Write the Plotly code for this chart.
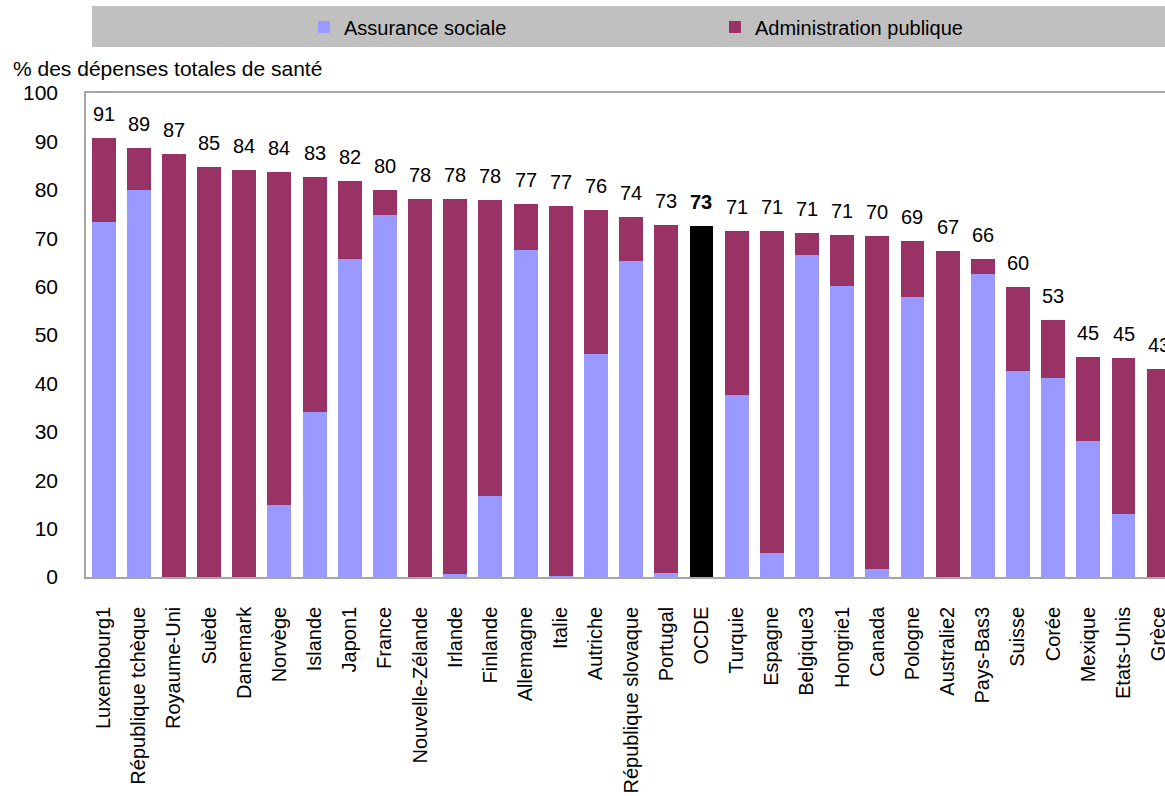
import plotly.graph_objects as go

# Dépenses publiques de santé, en % des dépenses totales de santé
pays = [
    "Luxembourg1", "République tchèque", "Royaume-Uni", "Suède", "Danemark",
    "Norvège", "Islande", "Japon1", "France", "Nouvelle-Zélande", "Irlande",
    "Finlande", "Allemagne", "Italie", "Autriche", "République slovaque",
    "Portugal", "OCDE", "Turquie", "Espagne", "Belgique3", "Hongrie1", "Canada",
    "Pologne", "Australie2", "Pays-Bas3", "Suisse", "Corée", "Mexique",
    "Etats-Unis", "Grèce",
]
assurance_sociale = [
    73.3, 79.9, 0.0, 0.0, 0.0, 14.8, 34.0, 65.8, 74.7, 0.0, 0.6, 16.7, 67.5,
    0.3, 46.0, 65.2, 0.8, None, 37.7, 4.9, 66.5, 60.1, 1.6, 57.8, 0.0, 62.7,
    42.5, 41.1, 28.2, 13.0, 0.0,
]
administration_publique = [
    17.5, 8.8, 87.3, 84.7, 84.1, 68.8, 48.7, 16.0, 5.3, 78.0, 77.4, 61.1, 9.5,
    76.4, 29.8, 9.2, 71.9, None, 33.7, 66.5, 4.6, 10.6, 68.8, 11.6, 67.4, 3.0,
    17.5, 12.0, 17.2, 32.2, 42.9,
]
moyenne_ocde = 72.6
y_ticks = [0, 10, 20, 30, 40, 50, 60, 70, 80, 90, 100]

FONT = "Liberation Sans, Arial, sans-serif"
BLEU = "#9999FF"
BORDEAUX = "#993366"

ocde_idx = pays.index("OCDE")
totaux = []
for i, (a, b) in enumerate(zip(assurance_sociale, administration_publique)):
    totaux.append(moyenne_ocde if i == ocde_idx else a + b)

fig = go.Figure()
fig.add_trace(go.Bar(x=pays, y=assurance_sociale, name="Assurance sociale",
                     marker=dict(color=BLEU, line=dict(width=0))))
fig.add_trace(go.Bar(x=pays, y=administration_publique, name="Administration publique",
                     marker=dict(color=BORDEAUX, line=dict(width=0))))
fig.add_trace(go.Bar(x=pays, y=[moyenne_ocde if p == "OCDE" else None for p in pays],
                     name="OCDE", showlegend=False,
                     marker=dict(color="#000000", line=dict(width=0))))

# Valeur totale au-dessus de chaque barre
annotations = []
for i, (p, t) in enumerate(zip(pays, totaux)):
    label = f"{int(round(t + 1e-9))}"
    if p == "OCDE":
        label = f"<b>{label}</b>"
    annotations.append(dict(x=p, y=t, xref="x", yref="y", text=label,
                            showarrow=False, yanchor="middle", yshift=24,
                            font=dict(family=FONT, size=20, color="#000000")))

W, H = 1165, 796
ML, MT, MB = 86, 93, 219
plot_w = W - ML
plot_h = H - MT - MB


def px_x(px):
    return (px - ML) / plot_w


def px_y(py):
    return (H - MB - py) / plot_h


annotations.append(dict(x=px_x(11), y=px_y(68), xref="paper", yref="paper",
                        xanchor="left", yanchor="middle", showarrow=False,
                        text="% des dépenses totales de santé",
                        font=dict(family=FONT, size=21, color="#000000")))

fig.update_layout(
    width=W, height=H,
    margin=dict(l=ML, r=0, t=MT, b=MB, autoexpand=False),
    barmode="stack", bargap=0.32,
    paper_bgcolor="#FFFFFF", plot_bgcolor="#FFFFFF",
    font=dict(family=FONT, size=21, color="#000000"),
    showlegend=True,
    legend=dict(orientation="h", x=px_x(304), y=px_y(27), xanchor="left",
                yanchor="middle", xref="paper", yref="paper",
                traceorder="normal",
                bgcolor="rgba(0,0,0,0)", borderwidth=0,
                entrywidth=366, entrywidthmode="pixels",
                font=dict(family=FONT, size=20, color="#000000"),
                itemclick=False, itemdoubleclick=False),
    shapes=[dict(type="rect", xref="paper", yref="paper",
                 x0=px_x(92), x1=px_x(1165), y0=px_y(47), y1=px_y(6),
                 fillcolor="#C0C0C0", line=dict(width=0), layer="below")],
    annotations=annotations,
    xaxis=dict(range=[-0.5, 30.18], tickangle=-90, showgrid=False,
               showline=True, mirror=True, linecolor="#A6A6A6", linewidth=1.5,
               ticks="", ticklabelstandoff=20, zeroline=False,
               tickfont=dict(family=FONT, size=20, color="#000000")),
    yaxis=dict(range=[0, 100], tickvals=y_ticks, showgrid=False,
               showline=True, mirror=False, linecolor="#A6A6A6", linewidth=1.5,
               ticks="", ticklabelstandoff=22, zeroline=False,
               tickfont=dict(family=FONT, size=21, color="#000000")),
)

fig.write_html("out.html")
